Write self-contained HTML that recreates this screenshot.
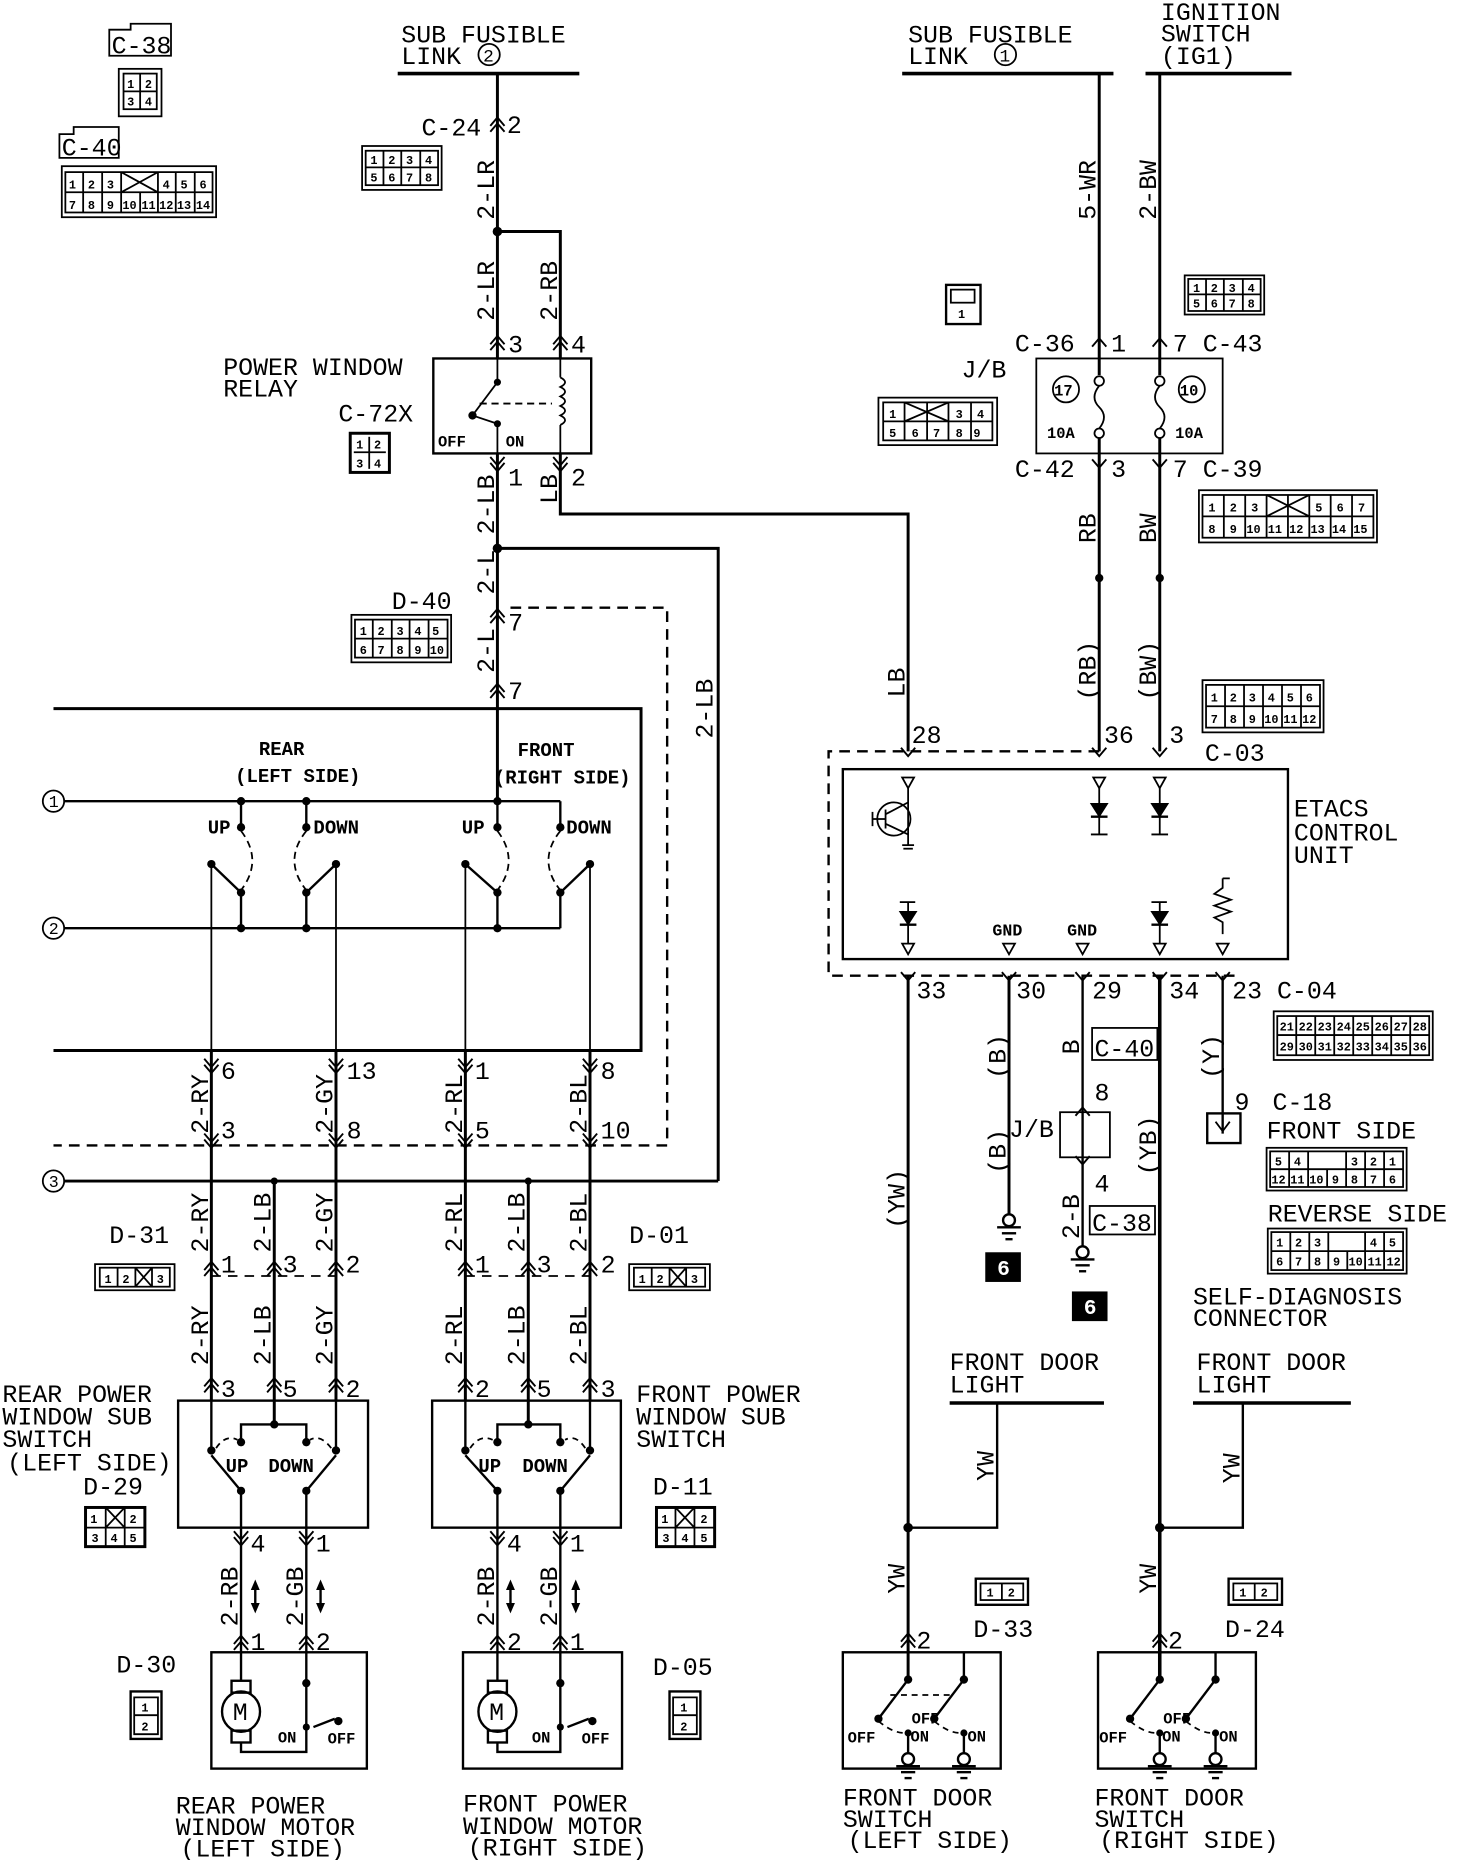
<!DOCTYPE html>
<html><head><meta charset="utf-8"><style>
html,body{margin:0;padding:0;background:#fff}
svg{display:block}
text{font-family:"Liberation Mono",monospace;fill:#000}
.t{font-size:21px}
.s{font-size:16px;font-weight:bold}
.n{font-size:10px;font-weight:bold}
text.w{fill:#fff;font-size:18px;font-weight:bold}
</style></head><body>
<svg width="1472" height="1860" viewBox="0 0 1240 1567" xmlns="http://www.w3.org/2000/svg">
<defs>
<path id="ud" d="M-6,8 L0,1 L6,8 M-6,13 L0,6 L6,13" fill="none" stroke="#000" stroke-width="1.6"/>
<path id="dd" d="M-6,-8 L0,-1 L6,-8 M-6,-13 L0,-6 L6,-13" fill="none" stroke="#000" stroke-width="1.6"/>
<path id="u" d="M-6,8 L0,1 L6,8" fill="none" stroke="#000" stroke-width="1.6"/>
<path id="d" d="M-6,-8 L0,-1 L6,-8" fill="none" stroke="#000" stroke-width="1.6"/>
<path id="tri" d="M-5,0 L5,0 L0,9 Z" fill="#fff" stroke="#000" stroke-width="1.5"/>
<g id="gnd" stroke="#000" stroke-width="2" fill="#fff"><circle cx="0" cy="0" r="5"/><line x1="-10" y1="6" x2="10" y2="6"/><line x1="-6" y1="11" x2="6" y2="11"/><line x1="-3" y1="16" x2="3" y2="16"/></g>
<g id="dar" fill="#000" stroke="#000" stroke-width="2"><line x1="0" y1="-10" x2="0" y2="10"/><path d="M-3,-6 L0,-13 L3,-6 Z M-3,6 L0,13 L3,6 Z" stroke-width="1"/></g>
</defs>
<g stroke="#000" fill="none" stroke-width="2.5">
<line x1="335" y1="62" x2="488" y2="62" stroke-width="3"/>
<line x1="419" y1="62" x2="419" y2="302"/>
<polyline points="419,195 472,195 472,302"/>
<rect x="365" y="302" width="133" height="80" stroke-width="2"/>
<line x1="419" y1="302" x2="419" y2="322" stroke-width="1.5"/>
<line x1="419" y1="322" x2="398" y2="350" stroke-width="1.5"/>
<line x1="398" y1="350" x2="419" y2="357" stroke-width="1.5"/>
<line x1="419" y1="357" x2="419" y2="382" stroke-width="1.5"/>
<line x1="404" y1="340" x2="465" y2="340" stroke-dasharray="6,4" stroke-width="1.5"/>
<line x1="472" y1="302" x2="472" y2="318" stroke-width="1.5"/>
<path d="M472,318 q8,4 0,8 q8,4 0,8 q8,4 0,8 q8,4 0,8 q8,4 0,8" stroke-width="1.5"/>
<line x1="472" y1="358" x2="472" y2="382" stroke-width="1.5"/>
<line x1="419" y1="382" x2="419" y2="675"/>
<polyline points="472,382 472,433 765,433 765,633"/>
<polyline points="419,462 605,462 605,995"/>
<polyline points="430,512 562,512 562,965 45,965" stroke-dasharray="9,6" stroke-width="2"/>
<polyline points="45,597 540,597 540,885 45,885"/>
<line x1="54" y1="675" x2="472" y2="675" stroke-width="2"/>
<line x1="54" y1="782" x2="472" y2="782" stroke-width="2"/>
<line x1="54" y1="995" x2="605" y2="995" stroke-width="2.5"/>
<circle cx="45" cy="675" r="9" stroke-width="1.5"/>
<circle cx="45" cy="782" r="9" stroke-width="1.5"/>
<circle cx="45" cy="995" r="9" stroke-width="1.5"/>
<g stroke-width="2">
<line x1="203" y1="675" x2="203" y2="697"/><line x1="258" y1="675" x2="258" y2="697"/>
<line x1="472" y1="675" x2="472" y2="697"/><line x1="419" y1="675" x2="419" y2="697"/>
<line x1="203" y1="752" x2="203" y2="782"/><line x1="258" y1="752" x2="258" y2="782"/>
<line x1="419" y1="752" x2="419" y2="782"/><line x1="472" y1="752" x2="472" y2="782"/>
<line x1="178" y1="728" x2="203" y2="752"/><line x1="283" y1="728" x2="258" y2="752"/>
<line x1="392" y1="728" x2="419" y2="752"/><line x1="497" y1="728" x2="472" y2="752"/>
</g>
<g stroke-width="1.5" stroke-dasharray="6,4">
<path d="M203,700 Q222,725 203,750"/><path d="M258,700 Q238,725 258,750"/>
<path d="M419,700 Q438,725 419,750"/><path d="M472,700 Q452,725 472,750"/>
</g>
<g stroke-width="1.5">
<line x1="178" y1="728" x2="178" y2="1180"/><line x1="283" y1="728" x2="283" y2="1180"/>
<line x1="392" y1="728" x2="392" y2="1180"/><line x1="497" y1="728" x2="497" y2="1180"/>
</g>
<g stroke-width="2.5">
<line x1="178" y1="885" x2="178" y2="1180"/><line x1="283" y1="885" x2="283" y2="1180"/>
<line x1="392" y1="885" x2="392" y2="1180"/><line x1="497" y1="885" x2="497" y2="1180"/>
<line x1="231" y1="995" x2="231" y2="1200"/><line x1="445" y1="995" x2="445" y2="1200"/>
</g>
<line x1="178" y1="1075" x2="283" y2="1075" stroke-dasharray="8,6" stroke-width="1.5"/>
<line x1="392" y1="1075" x2="497" y2="1075" stroke-dasharray="8,6" stroke-width="1.5"/>
<rect x="150" y="1180" width="160" height="107" stroke-width="2"/>
<rect x="364" y="1180" width="159" height="107" stroke-width="2"/>
<g stroke-width="2">
<line x1="178" y1="1180" x2="178" y2="1222"/><line x1="283" y1="1180" x2="283" y2="1222"/>
<polyline points="203,1215 203,1200 258,1200 258,1215"/>
<line x1="178" y1="1226" x2="203" y2="1256"/><line x1="283" y1="1226" x2="258" y2="1256"/>
<line x1="203" y1="1256" x2="203" y2="1392"/><line x1="258" y1="1256" x2="258" y2="1392"/>
<line x1="392" y1="1180" x2="392" y2="1222"/><line x1="497" y1="1180" x2="497" y2="1222"/>
<polyline points="419,1215 419,1200 472,1200 472,1215"/>
<line x1="392" y1="1226" x2="419" y2="1256"/><line x1="497" y1="1226" x2="472" y2="1256"/>
<line x1="419" y1="1256" x2="419" y2="1392"/><line x1="472" y1="1256" x2="472" y2="1392"/>
</g>
<g stroke-width="1.5" stroke-dasharray="5,4">
<path d="M182,1220 Q190,1208 200,1213"/><path d="M279,1220 Q270,1208 261,1213"/>
<path d="M396,1220 Q404,1208 415,1213"/><path d="M493,1220 Q485,1208 476,1213"/>
</g>
<rect x="178" y="1392" width="131" height="98" stroke-width="2"/>
<rect x="390" y="1392" width="134" height="98" stroke-width="2"/>
<g stroke-width="2">
<line x1="203" y1="1392" x2="203" y2="1416"/><rect x="195" y="1416" width="16" height="10"/>
<ellipse cx="203" cy="1442" rx="16" ry="17"/><rect x="195" y="1458" width="16" height="10"/>
<polyline points="203,1468 203,1476 258,1476 258,1455"/><line x1="258" y1="1392" x2="258" y2="1455"/>
<line x1="264" y1="1455" x2="282" y2="1448"/>
<line x1="419" y1="1392" x2="419" y2="1416"/><rect x="411" y="1416" width="16" height="10"/>
<ellipse cx="419" cy="1442" rx="16" ry="17"/><rect x="411" y="1458" width="16" height="10"/>
<polyline points="419,1468 419,1476 472,1476 472,1455"/><line x1="472" y1="1392" x2="472" y2="1455"/>
<line x1="478" y1="1455" x2="496" y2="1448"/>
</g>
<line x1="760" y1="62" x2="938" y2="62" stroke-width="3"/>
<line x1="965" y1="62" x2="1088" y2="62" stroke-width="3"/>
<line x1="926" y1="62" x2="926" y2="316"/><line x1="977" y1="62" x2="977" y2="316"/>
<rect x="873" y="302" width="157" height="80" stroke-width="1.5"/>
<circle cx="926" cy="321" r="4" stroke-width="1.5"/><circle cx="977" cy="321" r="4" stroke-width="1.5"/>
<circle cx="926" cy="365" r="4" stroke-width="1.5"/><circle cx="977" cy="365" r="4" stroke-width="1.5"/>
<path d="M926,325 Q918,335 926,343 Q934,351 926,361" stroke-width="1.5"/>
<path d="M977,325 Q969,335 977,343 Q985,351 977,361" stroke-width="1.5"/>
<circle cx="898" cy="328" r="11" stroke-width="1.5"/><circle cx="1004" cy="328" r="11" stroke-width="1.5"/>
<line x1="926" y1="369" x2="926" y2="633"/><line x1="977" y1="369" x2="977" y2="633"/>
<polyline points="926,633 698,633 698,822 1040,822" stroke-dasharray="9,6" stroke-width="2"/>
<rect x="710" y="648" width="375" height="160" stroke-width="2"/>
<g stroke-width="1.5">
<line x1="765" y1="660" x2="765" y2="712"/>
<circle cx="753" cy="690" r="14"/><line x1="735" y1="690" x2="746" y2="690"/><line x1="735" y1="684" x2="735" y2="696"/>
<line x1="746" y1="682" x2="746" y2="698"/><line x1="746" y1="686" x2="765" y2="676"/><line x1="746" y1="694" x2="765" y2="703"/>
<line x1="760" y1="712" x2="770" y2="712"/><line x1="761" y1="715" x2="769" y2="715"/>
<line x1="926" y1="660" x2="926" y2="703"/><line x1="919" y1="703" x2="933" y2="703"/>
<line x1="977" y1="660" x2="977" y2="703"/><line x1="970" y1="703" x2="984" y2="703"/>
<line x1="765" y1="760" x2="765" y2="795"/><line x1="758" y1="760" x2="771" y2="760"/>
<line x1="977" y1="760" x2="977" y2="795"/><line x1="970" y1="760" x2="983" y2="760"/>
<path d="M1030,740 h6 M1030,740 v8 l-7,5 l14,5 l-14,5 l14,5 l-14,5 l7,4 v10"/>
</g>
<path d="M919,677 h14 l-7,11 z M970,677 h14 l-7,11 z M758,768 h14 l-7,11 z M970,768 h14 l-7,11 z" fill="#000" stroke="#000" stroke-width="1"/>
<line x1="919" y1="688" x2="933" y2="688" stroke-width="2"/><line x1="970" y1="688" x2="984" y2="688" stroke-width="2"/>
<line x1="758" y1="779" x2="772" y2="779" stroke-width="2"/><line x1="970" y1="779" x2="984" y2="779" stroke-width="2"/>
<line x1="765" y1="822" x2="765" y2="1415" stroke-width="2.5"/>
<line x1="850" y1="822" x2="850" y2="1023" stroke-width="2.5"/>
<line x1="912" y1="822" x2="912" y2="1050" stroke-width="2"/>
<line x1="977" y1="822" x2="977" y2="1415" stroke-width="3"/>
<line x1="1030" y1="822" x2="1030" y2="955" stroke-width="2"/>
<rect x="893" y="937" width="42" height="38" stroke-width="1.5"/>
<rect x="1017" y="938" width="28" height="25" stroke-width="2"/>
<path d="M1024,945 L1030,953 L1036,945" stroke-width="1.5"/>
<rect x="920" y="866" width="55" height="27" stroke-width="1.5"/>
<rect x="918" y="1016" width="55" height="24" stroke-width="1.5"/>
<line x1="800" y1="1182" x2="930" y2="1182" stroke-width="3"/>
<polyline points="840,1182 840,1287 765,1287" stroke-width="2"/>
<line x1="1005" y1="1182" x2="1138" y2="1182" stroke-width="3"/>
<polyline points="1047,1182 1047,1287 977,1287" stroke-width="2"/>
<rect x="710" y="1392" width="133" height="98" stroke-width="2"/>
<rect x="925" y="1392" width="133" height="98" stroke-width="2"/>
<g stroke-width="2">
<line x1="765" y1="1415" x2="740" y2="1448"/><line x1="812" y1="1392" x2="812" y2="1415"/><line x1="812" y1="1415" x2="787" y2="1448"/>
<line x1="765" y1="1460" x2="765" y2="1477"/><line x1="812" y1="1460" x2="812" y2="1477"/>
<line x1="977" y1="1415" x2="952" y2="1448"/><line x1="1024" y1="1392" x2="1024" y2="1415"/><line x1="1024" y1="1415" x2="999" y2="1448"/>
<line x1="977" y1="1415" x2="977" y2="1392"/><line x1="977" y1="1460" x2="977" y2="1477"/><line x1="1024" y1="1460" x2="1024" y2="1477"/>
</g>
<g stroke-width="1.5" stroke-dasharray="5,4">
<line x1="750" y1="1428" x2="800" y2="1428"/>
<path d="M740,1450 Q752,1460 762,1460"/><path d="M787,1450 Q799,1460 809,1460"/>
<path d="M952,1450 Q964,1460 974,1460"/><path d="M999,1450 Q1011,1460 1021,1460"/>
</g>
</g>
<g fill="#000">
<circle cx="419" cy="195" r="4"/><circle cx="419" cy="462" r="4"/>
<circle cx="398" cy="350" r="3.5"/><circle cx="419" cy="357" r="3"/><circle cx="419" cy="322" r="3"/>
<circle cx="203" cy="675" r="3.5"/><circle cx="258" cy="675" r="3.5"/><circle cx="419" cy="675" r="3.5"/>
<circle cx="203" cy="697" r="3.5"/><circle cx="258" cy="697" r="3.5"/><circle cx="419" cy="697" r="3.5"/><circle cx="472" cy="697" r="3.5"/>
<circle cx="178" cy="728" r="3.5"/><circle cx="283" cy="728" r="3.5"/><circle cx="392" cy="728" r="3.5"/><circle cx="497" cy="728" r="3.5"/>
<circle cx="203" cy="752" r="3.5"/><circle cx="258" cy="752" r="3.5"/><circle cx="419" cy="752" r="3.5"/><circle cx="472" cy="752" r="3.5"/>
<circle cx="203" cy="782" r="3.5"/><circle cx="258" cy="782" r="3.5"/><circle cx="419" cy="782" r="3.5"/>
<circle cx="231" cy="995" r="3"/><circle cx="445" cy="995" r="3"/>
<circle cx="178" cy="1222" r="3.5"/><circle cx="283" cy="1222" r="3.5"/><circle cx="203" cy="1215" r="3.5"/><circle cx="258" cy="1215" r="3.5"/><circle cx="231" cy="1200" r="3.5"/>
<circle cx="203" cy="1256" r="3.5"/><circle cx="258" cy="1256" r="3.5"/>
<circle cx="392" cy="1222" r="3.5"/><circle cx="497" cy="1222" r="3.5"/><circle cx="419" cy="1215" r="3.5"/><circle cx="472" cy="1215" r="3.5"/><circle cx="445" cy="1200" r="3.5"/>
<circle cx="419" cy="1256" r="3.5"/><circle cx="472" cy="1256" r="3.5"/>
<circle cx="258" cy="1418" r="3.5"/><circle cx="258" cy="1455" r="3"/><circle cx="285" cy="1450" r="3.5"/>
<circle cx="472" cy="1418" r="3.5"/><circle cx="472" cy="1455" r="3"/><circle cx="499" cy="1450" r="3.5"/>
<circle cx="926" cy="487" r="3.5"/><circle cx="977" cy="487" r="3.5"/>
<circle cx="765" cy="1287" r="4"/><circle cx="977" cy="1287" r="4"/>
<circle cx="765" cy="1415" r="3.5"/><circle cx="812" cy="1415" r="3.5"/><circle cx="740" cy="1448" r="3.5"/><circle cx="787" cy="1448" r="3.5"/>
<circle cx="765" cy="1460" r="3"/><circle cx="812" cy="1460" r="3"/>
<circle cx="977" cy="1415" r="3.5"/><circle cx="1024" cy="1415" r="3.5"/><circle cx="952" cy="1448" r="3.5"/><circle cx="999" cy="1448" r="3.5"/>
<circle cx="977" cy="1460" r="3"/><circle cx="1024" cy="1460" r="3"/>
<rect x="830" y="1055" width="30" height="25"/><rect x="903" y="1088" width="30" height="25"/>
</g>
<text class="w" x="840" y="1074">6</text><text class="w" x="913" y="1107">6</text>
<use href="#gnd" x="850" y="1028"/><use href="#gnd" x="912" y="1055"/>
<use href="#gnd" x="765" y="1482"/><use href="#gnd" x="812" y="1482"/>
<use href="#gnd" x="977" y="1482"/><use href="#gnd" x="1024" y="1482"/>
<use href="#dar" x="215" y="1345"/><use href="#dar" x="270" y="1345"/><use href="#dar" x="430" y="1345"/><use href="#dar" x="485" y="1345"/>
<use href="#tri" x="765" y="655"/><use href="#tri" x="926" y="655"/><use href="#tri" x="977" y="655"/>
<use href="#tri" x="765" y="795"/><use href="#tri" x="850" y="795"/><use href="#tri" x="912" y="795"/><use href="#tri" x="977" y="795"/><use href="#tri" x="1030" y="795"/>
<use href="#ud" x="419" y="98"/><use href="#ud" x="419" y="282"/><use href="#ud" x="472" y="282"/>
<use href="#dd" x="419" y="398"/><use href="#dd" x="472" y="398"/>
<use href="#ud" x="419" y="512"/><use href="#ud" x="419" y="575"/>
<use href="#dd" x="178" y="905"/><use href="#dd" x="283" y="905"/><use href="#dd" x="392" y="905"/><use href="#dd" x="497" y="905"/>
<use href="#dd" x="178" y="968"/><use href="#dd" x="283" y="968"/><use href="#dd" x="392" y="968"/><use href="#dd" x="497" y="968"/>
<use href="#ud" x="178" y="1062"/><use href="#ud" x="231" y="1062"/><use href="#ud" x="283" y="1062"/>
<use href="#ud" x="392" y="1062"/><use href="#ud" x="445" y="1062"/><use href="#ud" x="497" y="1062"/>
<use href="#ud" x="178" y="1160"/><use href="#ud" x="231" y="1160"/><use href="#ud" x="283" y="1160"/>
<use href="#ud" x="392" y="1160"/><use href="#ud" x="445" y="1160"/><use href="#ud" x="497" y="1160"/>
<use href="#dd" x="203" y="1303"/><use href="#dd" x="258" y="1303"/><use href="#dd" x="419" y="1303"/><use href="#dd" x="472" y="1303"/>
<use href="#ud" x="203" y="1377"/><use href="#ud" x="258" y="1377"/><use href="#ud" x="419" y="1377"/><use href="#ud" x="472" y="1377"/>
<use href="#u" x="926" y="284"/><use href="#u" x="977" y="284"/>
<use href="#d" x="926" y="395"/><use href="#d" x="977" y="395"/>
<use href="#d" x="765" y="638"/><use href="#d" x="926" y="638"/><use href="#d" x="977" y="638"/>
<use href="#d" x="765" y="827"/><use href="#d" x="850" y="827"/><use href="#d" x="912" y="827"/><use href="#d" x="977" y="827"/><use href="#d" x="1030" y="827"/>
<use href="#u" x="912" y="932"/><use href="#d" x="912" y="982"/>
<use href="#ud" x="765" y="1375"/><use href="#ud" x="977" y="1375"/>
<g stroke="#000" fill="none" stroke-width="1.5">
<path d="M92,25 h18 v-5 h34 v5 v22 h-52 z"/>
<rect x="100" y="58" width="36" height="40"/><rect x="104" y="62" width="28" height="30"/><line x1="118" y1="62" x2="118" y2="92"/><line x1="104" y1="77" x2="132" y2="77"/>
<path d="M50,113 h12 v-6 h38 v6 v20 h-50 z"/>
<rect x="52" y="140" width="130" height="43"/><rect x="55" y="145" width="124" height="34"/><line x1="55" y1="162" x2="179" y2="162"/>
<path d="M70,145 v34 M86,145 v34 M102,145 v34 M118,162 v17 M133,145 v34 M148,145 v34 M164,145 v34 M102,145 L133,162 M133,145 L102,162"/>
<rect x="305" y="123" width="67" height="37"/><rect x="308" y="127" width="61" height="29"/><line x1="308" y1="141" x2="369" y2="141"/><path d="M323,127v29M338,127v29M354,127v29"/>
<rect x="295" y="365" width="33" height="33" stroke-width="2.5"/><line x1="311" y1="368" x2="311" y2="395"/><line x1="298" y1="381" x2="325" y2="381"/>
<rect x="296" y="518" width="84" height="40"/><rect x="299" y="522" width="78" height="32"/><line x1="299" y1="538" x2="377" y2="538"/><path d="M314,522v32M330,522v32M345,522v32M361,522v32"/>
<rect x="80" y="1065" width="67" height="22"/><rect x="84" y="1068" width="59" height="16"/><path d="M99,1068v16M114,1068v16M128,1068v16M114,1068L128,1084M128,1068L114,1084"/>
<rect x="530" y="1065" width="68" height="22"/><rect x="534" y="1068" width="60" height="16"/><path d="M549,1068v16M564,1068v16M578,1068v16M564,1068L578,1084M578,1068L564,1084"/>
<rect x="72" y="1270" width="50" height="33" stroke-width="2.5"/><path d="M72,1287h50M89,1270v33M105,1270v33M89,1270L105,1287M105,1270L89,1287"/>
<rect x="553" y="1270" width="49" height="33" stroke-width="2.5"/><path d="M553,1287h49M569,1270v33M585,1270v33M569,1270L585,1287M585,1270L569,1287"/>
<rect x="110" y="1425" width="26" height="40" stroke-width="2"/><path d="M113,1430h20v15h-20zM113,1445h20v16h-20z"/>
<rect x="564" y="1425" width="26" height="40" stroke-width="2"/><path d="M567,1430h20v15h-20zM567,1445h20v16h-20z"/>
<rect x="797" y="240" width="29" height="33" stroke-width="2"/><rect x="801" y="244" width="20" height="11"/>
<rect x="998" y="232" width="67" height="33"/><rect x="1001" y="235" width="61" height="27"/><line x1="1001" y1="248" x2="1062" y2="248"/><path d="M1016,235v27M1031,235v27M1047,235v27"/>
<rect x="740" y="335" width="100" height="40"/><rect x="744" y="339" width="92" height="32"/><line x1="744" y1="355" x2="836" y2="355"/><path d="M762,339v32M781,339v32M799,339v32M818,339v32M762,339L799,355M799,339L762,355"/>
<rect x="1010" y="413" width="150" height="44"/><rect x="1013" y="417" width="144" height="36"/><line x1="1013" y1="435" x2="1157" y2="435"/><path d="M1031,417v36M1049,417v36M1067,417v36M1085,417v36M1103,417v36M1121,417v36M1139,417v36M1067,417L1103,435M1103,417L1067,435"/>
<rect x="1013" y="573" width="102" height="44"/><rect x="1016" y="577" width="96" height="36"/><line x1="1016" y1="595" x2="1112" y2="595"/><path d="M1032,577v36M1048,577v36M1064,577v36M1080,577v36M1096,577v36"/>
<rect x="1073" y="852" width="134" height="41"/><rect x="1076" y="856" width="128" height="33"/><line x1="1076" y1="872" x2="1204" y2="872"/><path d="M1092,856v33M1108,856v33M1124,856v33M1140,856v33M1156,856v33M1172,856v33M1188,856v33"/>
<rect x="1067" y="967" width="118" height="36"/><rect x="1070" y="970" width="112" height="30"/><line x1="1070" y1="985" x2="1182" y2="985"/><path d="M1086,970v30M1102,970v30M1118,985v15M1134,985v15M1134,970v15M1150,970v30M1166,970v30"/>
<rect x="1068" y="1035" width="117" height="38"/><rect x="1071" y="1038" width="111" height="32"/><line x1="1071" y1="1054" x2="1182" y2="1054"/><path d="M1087,1038v32M1103,1038v32M1119,1038v32M1135,1054v16M1150,1038v32M1166,1038v32"/>
<rect x="822" y="1330" width="44" height="22" stroke-width="2"/><rect x="826" y="1334" width="36" height="14"/><line x1="844" y1="1334" x2="844" y2="1348"/>
<rect x="1035" y="1330" width="45" height="22" stroke-width="2"/><rect x="1039" y="1334" width="37" height="14"/><line x1="1057" y1="1334" x2="1057" y2="1348"/>
</g>
<g class="n">
<text x="107" y="74">1</text><text x="122" y="74">2</text><text x="107" y="89">3</text><text x="122" y="89">4</text>
<text x="58" y="159">1</text><text x="74" y="159">2</text><text x="90" y="159">3</text><text x="137" y="159">4</text><text x="152" y="159">5</text><text x="168" y="159">6</text>
<text x="58" y="176">7</text><text x="74" y="176">8</text><text x="90" y="176">9</text><text x="103" y="176">10</text><text x="119" y="176">11</text><text x="134" y="176">12</text><text x="149" y="176">13</text><text x="165" y="176">14</text>
<text x="312" y="138">1</text><text x="327" y="138">2</text><text x="342" y="138">3</text><text x="358" y="138">4</text>
<text x="312" y="153">5</text><text x="327" y="153">6</text><text x="342" y="153">7</text><text x="358" y="153">8</text>
<text x="300" y="378">1</text><text x="315" y="378">2</text><text x="300" y="394">3</text><text x="315" y="394">4</text>
<text x="303" y="535">1</text><text x="318" y="535">2</text><text x="334" y="535">3</text><text x="349" y="535">4</text><text x="364" y="535">5</text>
<text x="303" y="551">6</text><text x="318" y="551">7</text><text x="334" y="551">8</text><text x="349" y="551">9</text><text x="362" y="551">10</text>
<text x="88" y="1081">1</text><text x="103" y="1081">2</text><text x="132" y="1081">3</text>
<text x="538" y="1081">1</text><text x="553" y="1081">2</text><text x="582" y="1081">3</text>
<text x="76" y="1283">1</text><text x="109" y="1283">2</text><text x="77" y="1299">3</text><text x="93" y="1299">4</text><text x="109" y="1299">5</text>
<text x="557" y="1283">1</text><text x="590" y="1283">2</text><text x="558" y="1299">3</text><text x="574" y="1299">4</text><text x="590" y="1299">5</text>
<text x="119" y="1442">1</text><text x="119" y="1458">2</text><text x="573" y="1442">1</text><text x="573" y="1458">2</text>
<text x="807" y="268">1</text>
<text x="1005" y="246">1</text><text x="1020" y="246">2</text><text x="1035" y="246">3</text><text x="1051" y="246">4</text>
<text x="1005" y="259">5</text><text x="1020" y="259">6</text><text x="1035" y="259">7</text><text x="1051" y="259">8</text>
<text x="749" y="352">1</text><text x="805" y="352">3</text><text x="823" y="352">4</text>
<text x="749" y="368">5</text><text x="768" y="368">6</text><text x="786" y="368">7</text><text x="805" y="368">8</text><text x="820" y="368">9</text>
<text x="1018" y="431">1</text><text x="1036" y="431">2</text><text x="1054" y="431">3</text><text x="1108" y="431">5</text><text x="1126" y="431">6</text><text x="1144" y="431">7</text>
<text x="1018" y="449">8</text><text x="1036" y="449">9</text><text x="1050" y="449">10</text><text x="1068" y="449">11</text><text x="1086" y="449">12</text><text x="1104" y="449">13</text><text x="1122" y="449">14</text><text x="1140" y="449">15</text>
<text x="1020" y="591">1</text><text x="1036" y="591">2</text><text x="1052" y="591">3</text><text x="1068" y="591">4</text><text x="1084" y="591">5</text><text x="1100" y="591">6</text>
<text x="1020" y="609">7</text><text x="1036" y="609">8</text><text x="1052" y="609">9</text><text x="1065" y="609">10</text><text x="1081" y="609">11</text><text x="1097" y="609">12</text>
<text x="1078" y="868">21</text><text x="1094" y="868">22</text><text x="1110" y="868">23</text><text x="1126" y="868">24</text><text x="1142" y="868">25</text><text x="1158" y="868">26</text><text x="1174" y="868">27</text><text x="1190" y="868">28</text>
<text x="1078" y="885">29</text><text x="1094" y="885">30</text><text x="1110" y="885">31</text><text x="1126" y="885">32</text><text x="1142" y="885">33</text><text x="1158" y="885">34</text><text x="1174" y="885">35</text><text x="1190" y="885">36</text>
<text x="1074" y="982">5</text><text x="1090" y="982">4</text><text x="1138" y="982">3</text><text x="1154" y="982">2</text><text x="1170" y="982">1</text>
<text x="1071" y="997">12</text><text x="1087" y="997">11</text><text x="1103" y="997">10</text><text x="1122" y="997">9</text><text x="1138" y="997">8</text><text x="1154" y="997">7</text><text x="1170" y="997">6</text>
<text x="1075" y="1050">1</text><text x="1091" y="1050">2</text><text x="1107" y="1050">3</text><text x="1154" y="1050">4</text><text x="1170" y="1050">5</text>
<text x="1075" y="1066">6</text><text x="1091" y="1066">7</text><text x="1107" y="1066">8</text><text x="1123" y="1066">9</text><text x="1136" y="1066">10</text><text x="1152" y="1066">11</text><text x="1168" y="1066">12</text>
<text x="831" y="1345">1</text><text x="849" y="1345">2</text><text x="1044" y="1345">1</text><text x="1062" y="1345">2</text>
</g>
<g class="t">
<text x="94" y="45">C-38</text><text x="52" y="131">C-40</text>
<text x="338" y="36">SUB FUSIBLE</text><text x="338" y="54">LINK</text>
<text x="407" y="52" font-size="15">2</text><circle cx="412" cy="46" r="9" fill="none" stroke="#000" stroke-width="1.5"/>
<text x="355" y="114">C-24</text><text x="427" y="112">2</text>
<text x="428" y="297">3</text><text x="481" y="297">4</text>
<text x="188" y="316">POWER WINDOW</text><text x="188" y="334">RELAY</text>
<text x="285" y="355">C-72X</text>
<text x="428" y="409">1</text><text x="481" y="409">2</text>
<text x="330" y="513">D-40</text><text x="428" y="531">7</text><text x="428" y="589">7</text>
<text x="186" y="909">6</text><text x="292" y="909">13</text><text x="400" y="909">1</text><text x="506" y="909">8</text>
<text x="186" y="959">3</text><text x="292" y="959">8</text><text x="400" y="959">5</text><text x="506" y="959">10</text>
<text x="92" y="1047">D-31</text><text x="530" y="1047">D-01</text>
<text x="186" y="1072">1</text><text x="238" y="1072">3</text><text x="291" y="1072">2</text>
<text x="400" y="1072">1</text><text x="452" y="1072">3</text><text x="506" y="1072">2</text>
<text x="186" y="1177">3</text><text x="238" y="1177">5</text><text x="291" y="1177">2</text>
<text x="400" y="1177">2</text><text x="452" y="1177">5</text><text x="506" y="1177">3</text>
<text x="2" y="1181">REAR POWER</text><text x="2" y="1200">WINDOW SUB</text><text x="2" y="1219">SWITCH</text><text x="6" y="1239">(LEFT SIDE)</text>
<text x="70" y="1259">D-29</text>
<text x="536" y="1181">FRONT POWER</text><text x="536" y="1200">WINDOW SUB</text><text x="536" y="1219">SWITCH</text>
<text x="550" y="1259">D-11</text>
<text x="211" y="1307">4</text><text x="266" y="1307">1</text><text x="427" y="1307">4</text><text x="480" y="1307">1</text>
<text x="211" y="1390">1</text><text x="266" y="1390">2</text><text x="427" y="1390">2</text><text x="480" y="1390">1</text>
<text x="98" y="1409">D-30</text><text x="550" y="1411">D-05</text>
<text x="196" y="1449">M</text><text x="412" y="1449">M</text>
<text x="148" y="1528">REAR POWER</text><text x="148" y="1546">WINDOW MOTOR</text><text x="152" y="1564">(LEFT SIDE)</text>
<text x="390" y="1526">FRONT POWER</text><text x="390" y="1545">WINDOW MOTOR</text><text x="394" y="1563">(RIGHT SIDE)</text>
<text x="765" y="36">SUB FUSIBLE</text><text x="765" y="54">LINK</text>
<text x="842" y="52" font-size="15">1</text><circle cx="847" cy="46" r="9" fill="none" stroke="#000" stroke-width="1.5"/>
<text x="978" y="17">IGNITION</text><text x="978" y="35">SWITCH</text><text x="978" y="54">(IG1)</text>
<text x="855" y="296">C-36</text><text x="936" y="296">1</text><text x="988" y="296">7 C-43</text>
<text x="810" y="318">J/B</text>
<text x="855" y="402">C-42</text><text x="936" y="402">3</text><text x="988" y="402">7 C-39</text>
<text x="768" y="626">28</text><text x="930" y="626">36</text><text x="985" y="626">3</text>
<text x="1015" y="641">C-03</text>
<text x="1090" y="688">ETACS</text><text x="1090" y="708">CONTROL</text><text x="1090" y="727">UNIT</text>
<text x="772" y="841">33</text><text x="856" y="841">30</text><text x="920" y="841">29</text><text x="985" y="841">34</text><text x="1038" y="841">23 C-04</text>
<text x="922" y="927">8</text><text x="850" y="958">J/B</text><text x="922" y="1004">4</text>
<text x="922" y="890">C-40</text><text x="920" y="1037">C-38</text>
<text x="1040" y="935">9</text><text x="1072" y="935">C-18</text>
<text x="1067" y="959">FRONT SIDE</text><text x="1068" y="1029">REVERSE SIDE</text>
<text x="1005" y="1099">SELF-DIAGNOSIS</text><text x="1005" y="1117">CONNECTOR</text>
<text x="800" y="1154">FRONT DOOR</text><text x="800" y="1173">LIGHT</text>
<text x="1008" y="1154">FRONT DOOR</text><text x="1008" y="1173">LIGHT</text>
<text x="820" y="1379">D-33</text><text x="1032" y="1379">D-24</text>
<text x="772" y="1389">2</text><text x="984" y="1389">2</text>
<text x="710" y="1521">FRONT DOOR</text><text x="710" y="1539">SWITCH</text><text x="714" y="1557">(LEFT SIDE)</text>
<text x="922" y="1521">FRONT DOOR</text><text x="922" y="1539">SWITCH</text><text x="926" y="1557">(RIGHT SIDE)</text>
</g>
<g font-size="14">
<text x="41" y="680">1</text><text x="41" y="787">2</text><text x="41" y="1000">3</text>
</g>
<g class="s">
<text x="369" y="376" font-size="13">OFF</text><text x="426" y="376" font-size="13">ON</text>
<text x="218" y="636">REAR</text><text x="198" y="659">(LEFT SIDE)</text>
<text x="436" y="637">FRONT</text><text x="416" y="660">(RIGHT SIDE)</text>
<text x="175" y="702">UP</text><text x="264" y="702">DOWN</text><text x="389" y="702">UP</text><text x="477" y="702">DOWN</text>
<text x="190" y="1240">UP</text><text x="226" y="1240">DOWN</text><text x="403" y="1240">UP</text><text x="440" y="1240">DOWN</text>
<text x="234" y="1468" font-size="13">ON</text><text x="276" y="1469" font-size="13">OFF</text>
<text x="448" y="1468" font-size="13">ON</text><text x="490" y="1469" font-size="13">OFF</text>
<text x="888" y="333" font-size="13">17</text><text x="994" y="333" font-size="13">10</text>
<text x="882" y="369" font-size="13">10A</text><text x="990" y="369" font-size="13">10A</text>
<text x="836" y="788" font-size="14">GND</text><text x="899" y="788" font-size="14">GND</text>
<text x="714" y="1468" font-size="13">OFF</text><text x="767" y="1467" font-size="13">ON</text><text x="768" y="1452" font-size="13">OFF</text><text x="815" y="1467" font-size="13">ON</text>
<text x="926" y="1468" font-size="13">OFF</text><text x="979" y="1467" font-size="13">ON</text><text x="980" y="1452" font-size="13">OFF</text><text x="1027" y="1467" font-size="13">ON</text>
</g>
<g class="t" text-anchor="middle">
<text transform="translate(416,160) rotate(-90)">2-LR</text>
<text transform="translate(416,245) rotate(-90)">2-LR</text>
<text transform="translate(469,245) rotate(-90)">2-RB</text>
<text transform="translate(416,425) rotate(-90)">2-LB</text>
<text transform="translate(469,412) rotate(-90)">LB</text>
<text transform="translate(416,482) rotate(-90)">2-L</text>
<text transform="translate(416,548) rotate(-90)">2-L</text>
<text transform="translate(600,597) rotate(-90)">2-LB</text>
<text transform="translate(175,930) rotate(-90)">2-RY</text>
<text transform="translate(280,930) rotate(-90)">2-GY</text>
<text transform="translate(389,930) rotate(-90)">2-RL</text>
<text transform="translate(494,930) rotate(-90)">2-BL</text>
<text transform="translate(175,1030) rotate(-90)">2-RY</text>
<text transform="translate(228,1030) rotate(-90)">2-LB</text>
<text transform="translate(280,1030) rotate(-90)">2-GY</text>
<text transform="translate(389,1030) rotate(-90)">2-RL</text>
<text transform="translate(442,1030) rotate(-90)">2-LB</text>
<text transform="translate(494,1030) rotate(-90)">2-BL</text>
<text transform="translate(175,1125) rotate(-90)">2-RY</text>
<text transform="translate(228,1125) rotate(-90)">2-LB</text>
<text transform="translate(280,1125) rotate(-90)">2-GY</text>
<text transform="translate(389,1125) rotate(-90)">2-RL</text>
<text transform="translate(442,1125) rotate(-90)">2-LB</text>
<text transform="translate(494,1125) rotate(-90)">2-BL</text>
<text transform="translate(200,1345) rotate(-90)">2-RB</text>
<text transform="translate(255,1345) rotate(-90)">2-GB</text>
<text transform="translate(416,1345) rotate(-90)">2-RB</text>
<text transform="translate(469,1345) rotate(-90)">2-GB</text>
<text transform="translate(923,160) rotate(-90)">5-WR</text>
<text transform="translate(974,160) rotate(-90)">2-BW</text>
<text transform="translate(923,445) rotate(-90)">RB</text>
<text transform="translate(974,445) rotate(-90)">BW</text>
<text transform="translate(923,565) rotate(-90)">(RB)</text>
<text transform="translate(974,565) rotate(-90)">(BW)</text>
<text transform="translate(762,575) rotate(-90)">LB</text>
<text transform="translate(847,890) rotate(-90)">(B)</text>
<text transform="translate(847,970) rotate(-90)">(B)</text>
<text transform="translate(909,882) rotate(-90)">B</text>
<text transform="translate(909,1025) rotate(-90)">2-B</text>
<text transform="translate(974,965) rotate(-90)">(YB)</text>
<text transform="translate(1027,890) rotate(-90)">(Y)</text>
<text transform="translate(762,1010) rotate(-90)">(YW)</text>
<text transform="translate(837,1235) rotate(-90)">YW</text>
<text transform="translate(1044,1237) rotate(-90)">YW</text>
<text transform="translate(762,1330) rotate(-90)">YW</text>
<text transform="translate(974,1330) rotate(-90)">YW</text>
</g>
</svg>
</body></html>
